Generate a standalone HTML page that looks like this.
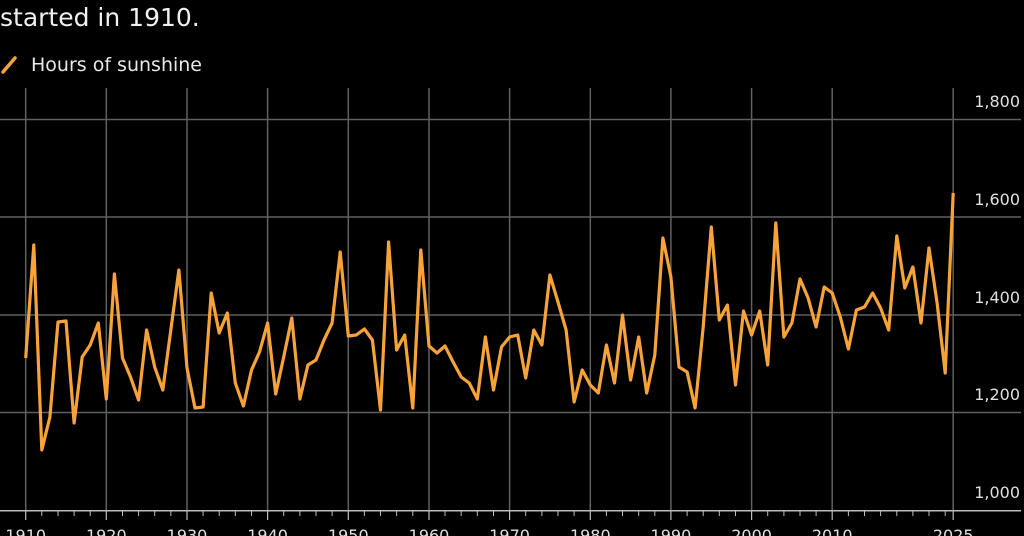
<!DOCTYPE html>
<html><head><meta charset="utf-8"><style>
html,body{margin:0;padding:0;background:#000;}
svg{display:block}
text{font-family:"DejaVu Sans","Liberation Sans",sans-serif;}
</style></head><body>
<svg width="1024" height="536" viewBox="0 0 1024 536" xmlns="http://www.w3.org/2000/svg">
<rect width="1024" height="536" fill="#000"/>
<text x="0" y="26" fill="#f0f0f0" font-size="25">started in 1910.</text>
<line x1="3" y1="72" x2="15" y2="58" stroke="#f7a33a" stroke-width="3.5" stroke-linecap="round"/>
<text x="31" y="71" fill="#e8e8e8" font-size="19">Hours of sunshine</text>
<g stroke="#606060" stroke-width="1.5">
<line x1="0" y1="119.5" x2="1021" y2="119.5"/>
<line x1="0" y1="217" x2="1021" y2="217"/>
<line x1="0" y1="315" x2="1021" y2="315"/>
<line x1="0" y1="412.5" x2="1021" y2="412.5"/>
<line x1="25.7" y1="88" x2="25.7" y2="511"/>
<line x1="106.3" y1="88" x2="106.3" y2="511"/>
<line x1="187" y1="88" x2="187" y2="511"/>
<line x1="267.6" y1="88" x2="267.6" y2="511"/>
<line x1="348.3" y1="88" x2="348.3" y2="511"/>
<line x1="429" y1="88" x2="429" y2="511"/>
<line x1="509.6" y1="88" x2="509.6" y2="511"/>
<line x1="590.3" y1="88" x2="590.3" y2="511"/>
<line x1="670.9" y1="88" x2="670.9" y2="511"/>
<line x1="751.6" y1="88" x2="751.6" y2="511"/>
<line x1="832.2" y1="88" x2="832.2" y2="511"/>
<line x1="953.2" y1="88" x2="953.2" y2="511"/>
</g>
<line x1="0" y1="510.7" x2="1021" y2="510.7" stroke="#bdbdbd" stroke-width="1.5"/>
<g stroke="#bdbdbd" stroke-width="1.2">
<line x1="25.7" y1="511" x2="25.7" y2="520"/><line x1="106.3" y1="511" x2="106.3" y2="520"/><line x1="187" y1="511" x2="187" y2="520"/><line x1="267.6" y1="511" x2="267.6" y2="520"/><line x1="348.3" y1="511" x2="348.3" y2="520"/><line x1="429" y1="511" x2="429" y2="520"/><line x1="509.6" y1="511" x2="509.6" y2="520"/><line x1="590.3" y1="511" x2="590.3" y2="520"/><line x1="670.9" y1="511" x2="670.9" y2="520"/><line x1="751.6" y1="511" x2="751.6" y2="520"/><line x1="832.2" y1="511" x2="832.2" y2="520"/><line x1="953.2" y1="511" x2="953.2" y2="520"/>
</g>
<g stroke="#bdbdbd" stroke-width="1">
<line x1="41.8" y1="511" x2="41.8" y2="516"/><line x1="58" y1="511" x2="58" y2="516"/><line x1="74.1" y1="511" x2="74.1" y2="516"/><line x1="90.2" y1="511" x2="90.2" y2="516"/>
<line x1="122.5" y1="511" x2="122.5" y2="516"/><line x1="138.6" y1="511" x2="138.6" y2="516"/><line x1="154.7" y1="511" x2="154.7" y2="516"/><line x1="170.8" y1="511" x2="170.8" y2="516"/>
<line x1="203.1" y1="511" x2="203.1" y2="516"/><line x1="219.2" y1="511" x2="219.2" y2="516"/><line x1="235.3" y1="511" x2="235.3" y2="516"/><line x1="251.5" y1="511" x2="251.5" y2="516"/>
<line x1="283.7" y1="511" x2="283.7" y2="516"/><line x1="299.9" y1="511" x2="299.9" y2="516"/><line x1="316" y1="511" x2="316" y2="516"/><line x1="332.1" y1="511" x2="332.1" y2="516"/>
<line x1="364.4" y1="511" x2="364.4" y2="516"/><line x1="380.5" y1="511" x2="380.5" y2="516"/><line x1="396.6" y1="511" x2="396.6" y2="516"/><line x1="412.8" y1="511" x2="412.8" y2="516"/>
<line x1="445" y1="511" x2="445" y2="516"/><line x1="461.2" y1="511" x2="461.2" y2="516"/><line x1="477.3" y1="511" x2="477.3" y2="516"/><line x1="493.5" y1="511" x2="493.5" y2="516"/>
<line x1="525.7" y1="511" x2="525.7" y2="516"/><line x1="541.9" y1="511" x2="541.9" y2="516"/><line x1="558" y1="511" x2="558" y2="516"/><line x1="574.1" y1="511" x2="574.1" y2="516"/>
<line x1="606.4" y1="511" x2="606.4" y2="516"/><line x1="622.5" y1="511" x2="622.5" y2="516"/><line x1="638.7" y1="511" x2="638.7" y2="516"/><line x1="654.8" y1="511" x2="654.8" y2="516"/>
<line x1="687.1" y1="511" x2="687.1" y2="516"/><line x1="703.2" y1="511" x2="703.2" y2="516"/><line x1="719.3" y1="511" x2="719.3" y2="516"/><line x1="735.5" y1="511" x2="735.5" y2="516"/>
<line x1="767.7" y1="511" x2="767.7" y2="516"/><line x1="783.9" y1="511" x2="783.9" y2="516"/><line x1="800" y1="511" x2="800" y2="516"/><line x1="816.1" y1="511" x2="816.1" y2="516"/>
<line x1="848.4" y1="511" x2="848.4" y2="516"/><line x1="864.5" y1="511" x2="864.5" y2="516"/><line x1="880.6" y1="511" x2="880.6" y2="516"/><line x1="896.8" y1="511" x2="896.8" y2="516"/>
<line x1="912.9" y1="511" x2="912.9" y2="516"/><line x1="929" y1="511" x2="929" y2="516"/><line x1="945.2" y1="511" x2="945.2" y2="516"/>
</g>
<g fill="#e0e0e0" font-size="16" text-anchor="end">
<text x="1020" y="107">1,800</text>
<text x="1020" y="205">1,600</text>
<text x="1020" y="303">1,400</text>
<text x="1020" y="400">1,200</text>
<text x="1020" y="498">1,000</text>
</g>
<g fill="#e0e0e0" font-size="16" text-anchor="middle">
<text x="25.7" y="541">1910</text><text x="106.3" y="541">1920</text><text x="187" y="541">1930</text><text x="267.6" y="541">1940</text><text x="348.3" y="541">1950</text><text x="429" y="541">1960</text><text x="509.6" y="541">1970</text><text x="590.3" y="541">1980</text><text x="670.9" y="541">1990</text><text x="751.6" y="541">2000</text><text x="832.2" y="541">2010</text><text x="953.2" y="541">2025</text>
</g>
<polyline fill="none" stroke="#f7a33a" stroke-width="3.2" stroke-linejoin="round" points="
25.7,358 33.8,245 41.8,450 49.9,417 58,322 66,321 74.1,423 82.2,357 90.2,345 98.3,323
106.3,399 114.4,274 122.5,358 130.5,377 138.6,400 146.6,330 154.7,367 162.8,390 170.8,330 178.9,270
187,368 195,408 203.1,407 211.2,293 219.2,333 227.3,313 235.3,383 243.4,406 251.5,370 259.5,352
267.6,323 275.7,394 283.7,357 291.8,318 299.9,399 307.9,365 316,360 324,340 332.1,323 340.2,252
348.3,336 356.3,335 364.4,329 372.4,340 380.5,410 388.6,242 396.6,350 404.7,335 412.8,408 420.8,250
429,346 437,353 445,346 453.1,362 461.2,377 469.2,383 477.3,399 485.4,337 493.5,390 501.5,347
509.6,337 517.7,335 525.7,378 533.8,330 541.9,345 549.9,275 558,302 566.1,330 574.1,402 582.2,370
590.3,385 598.3,393 606.4,345 614.5,383 622.5,315 630.6,380 638.7,337 646.7,393 654.8,355 662.9,238
670.9,277 679,367 687.1,372 695.1,408 703.2,327 711.3,227 719.3,320 727.4,305 735.5,385 743.5,311
751.6,335 759.7,311 767.7,365 775.8,223 783.9,337 791.9,323 800,279 808.1,298 816.1,327 824.2,287
832.2,293 840.3,317 848.4,349 856.4,310 864.5,307 872.6,293 880.6,308 888.7,330 896.8,236 904.8,288
912.9,267 921,323 929,248 937.1,303 945.2,373 953.2,193"/>
</svg>
</body></html>
